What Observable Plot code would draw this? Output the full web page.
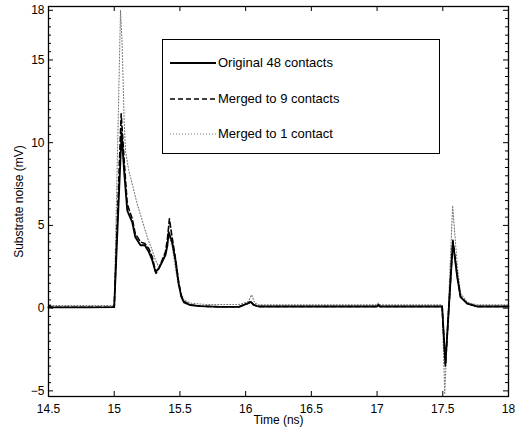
<!DOCTYPE html>
<html><head><meta charset="utf-8">
<script src="https://cdn.jsdelivr.net/npm/d3@7"></script>
<script src="https://cdn.jsdelivr.net/npm/@observablehq/plot@0.6"></script>
<style>
body{margin:0;background:#fff;}
#wrap{position:relative;width:519px;height:432px;font-family:"Liberation Sans",Arial,sans-serif;}
#legend{position:absolute;left:162px;top:39px;width:278px;height:115px;border:1.3px solid #000;background:#fff;box-sizing:border-box;}
.row{position:absolute;left:0;height:16px;font-size:13px;line-height:16px;color:#000;white-space:nowrap;}
.row svg{position:absolute;left:7px;top:0;}
.row span{position:absolute;left:55px;top:0;}
</style>
</head><body>
<div id="wrap"><div id="chart"></div><div id="legend"></div></div>
<script>
// ---- data ----
const seriesNames = ["Original 48 contacts", "Merged to 9 contacts", "Merged to 1 contact"];
const xTickValues = [14.5, 15, 15.5, 16, 16.5, 17, 17.5, 18];
const yTickValues = [-5, 0, 5, 10, 15, 18];
const yMinorValues = d3.range(-5, 18.01, 0.5).filter(v => !yTickValues.includes(v));

const tOriginal = [14.5, 14.51, 14.52, 14.6, 14.8, 15.0, 15.056, 15.075, 15.099, 15.12, 15.137, 15.16, 15.2, 15.233, 15.263, 15.289, 15.314, 15.34, 15.365, 15.39, 15.405, 15.415, 15.44, 15.466, 15.49, 15.51, 15.53, 15.58, 15.65, 15.8, 15.95, 16.02, 16.04, 16.06, 16.1, 16.5, 17.0, 17.01, 17.02, 17.3, 17.495, 17.52, 17.577, 17.61, 17.635, 17.686, 17.76, 18];
const vOriginal = [0.05, 0.15, 0.05, 0.05, 0.05, 0.06, 10.6, 8.3, 5.9, 5.5, 5.2, 4.3, 3.8, 3.8, 3.4, 2.9, 2.2, 2.4, 2.8, 3.2, 3.8, 4.6, 4.0, 2.9, 1.5, 0.7, 0.35, 0.18, 0.12, 0.08, 0.08, 0.3, 0.38, 0.2, 0.1, 0.1, 0.1, 0.2, 0.1, 0.1, 0.1, -3.36, 3.99, 1.87, 0.66, 0.27, 0.1, 0.1];

const tMerged9 = [14.5, 14.51, 14.52, 14.6, 14.8, 15.0, 15.053, 15.075, 15.099, 15.12, 15.137, 15.16, 15.2, 15.233, 15.263, 15.289, 15.318, 15.34, 15.365, 15.39, 15.405, 15.42, 15.44, 15.466, 15.49, 15.51, 15.53, 15.58, 15.65, 15.8, 15.95, 16.02, 16.04, 16.06, 16.1, 16.5, 17.0, 17.01, 17.02, 17.3, 17.495, 17.52, 17.577, 17.61, 17.635, 17.686, 17.76, 18];
const vMerged9 = [0.05, 0.1, 0.05, 0.05, 0.05, 0.06, 11.75, 9.0, 6.3, 5.8, 5.4, 4.5, 4.0, 3.9, 3.6, 3.1, 2.1, 2.4, 2.9, 3.4, 4.2, 5.4, 4.3, 3.0, 1.6, 0.75, 0.4, 0.2, 0.12, 0.08, 0.08, 0.3, 0.4, 0.2, 0.1, 0.1, 0.1, 0.2, 0.1, 0.1, 0.1, -3.5, 4.1, 1.95, 0.7, 0.28, 0.1, 0.1];

const tMerged1 = [14.5, 14.51, 14.52, 14.8, 15.0, 15.048, 15.06, 15.075, 15.086, 15.111, 15.137, 15.175, 15.213, 15.251, 15.289, 15.314, 15.34, 15.365, 15.39, 15.415, 15.44, 15.466, 15.49, 15.53, 15.58, 15.7, 15.95, 16.02, 16.045, 16.07, 16.1, 16.5, 17.0, 17.01, 17.02, 17.3, 17.495, 17.515, 17.575, 17.61, 17.635, 17.686, 17.76, 18];
const vMerged1 = [0.15, 0.25, 0.15, 0.15, 0.15, 18.0, 16.0, 11.5, 9.5, 8.3, 7.5, 6.3, 5.3, 4.3, 3.5, 2.9, 2.5, 2.9, 3.3, 4.4, 3.8, 2.4, 1.3, 0.5, 0.3, 0.22, 0.22, 0.4, 0.8, 0.3, 0.2, 0.2, 0.2, 0.3, 0.2, 0.2, 0.2, -5.2, 6.2, 2.6, 0.9, 0.35, 0.2, 0.2];

const rows = (ts, vs) => ts.map((t, i) => ({t, v: vs[i]}));
const original = rows(tOriginal, vOriginal);
const merged9 = rows(tMerged9, vMerged9);
const merged1 = rows(tMerged1, vMerged1);

// ---- layout ----
const W = 519, H = 432, mL = 48, mR = 11, mT = 6, mB = 36;
const fw = W - mL - mR, fh = H - mT - mB;
const font = "Liberation Sans, Arial, Helvetica, sans-serif";
const numFmt = d => (d < 0 ? "\u2212" : "") + String(Math.abs(d));

const styles = [
  {stroke: "#000", strokeWidth: 1.8, dash: null},
  {stroke: "#000", strokeWidth: 1.6, dash: "5,3"},
  {stroke: "#777", strokeWidth: 1.1, dash: "1,2"}
];

const chart = Plot.plot({
  width: W, height: H,
  marginLeft: mL, marginRight: mR, marginTop: mT, marginBottom: mB,
  style: {fontFamily: font, fontSize: "12px", background: "#fff", color: "#000"},
  x: {domain: [14.5, 18]},
  y: {domain: [-5.34, 18.23]},
  marks: [
    Plot.line(merged1, {x: "t", y: "v", stroke: styles[2].stroke, strokeWidth: styles[2].strokeWidth, strokeDasharray: styles[2].dash}),
    Plot.line(merged9, {x: "t", y: "v", stroke: styles[1].stroke, strokeWidth: styles[1].strokeWidth, strokeDasharray: styles[1].dash}),
    Plot.line(original, {x: "t", y: "v", stroke: styles[0].stroke, strokeWidth: styles[0].strokeWidth}),
    Plot.tickX(xTickValues, {x: d => d, insetTop: fh - 5, stroke: "#000"}),
    Plot.tickX(xTickValues, {x: d => d, insetBottom: fh - 5, stroke: "#000"}),
    Plot.tickY(yTickValues, {y: d => d, insetRight: fw - 5, stroke: "#000"}),
    Plot.tickY(yTickValues, {y: d => d, insetLeft: fw - 5, stroke: "#000"}),
    Plot.tickY(yMinorValues, {y: d => d, insetRight: fw - 3, stroke: "#000"}),
    Plot.tickY(yMinorValues, {y: d => d, insetLeft: fw - 3, stroke: "#000"}),
    Plot.axisX(xTickValues, {tickSize: 0, tickPadding: 8, tickFormat: numFmt, label: "Time (ns)", labelAnchor: "center", labelOffset: 27, labelArrow: "none", fontSize: 12}),
    Plot.axisY(yTickValues, {tickSize: 0, tickPadding: 4, tickFormat: numFmt, label: "Substrate noise (mV)", labelAnchor: "center", labelOffset: 34, labelArrow: "none", fontSize: 12}),
    Plot.frame({stroke: "#000", strokeWidth: 1.3})
  ]
});
document.getElementById("chart").appendChild(chart);

// ---- legend ----
const legend = document.getElementById("legend");
const rowTops = [15, 51, 86];
seriesNames.forEach((name, i) => {
  const r = document.createElement("div");
  r.className = "row";
  r.style.top = rowTops[i] + "px";
  const s = styles[i];
  r.innerHTML = `<svg width="46" height="16"><line x1="0" x2="46" y1="8" y2="8" stroke="${s.stroke}" stroke-width="${s.strokeWidth}" ${s.dash ? `stroke-dasharray="${s.dash}"` : ""}/></svg><span>${name}</span>`;
  legend.appendChild(r);
});
</script>
</body></html>
